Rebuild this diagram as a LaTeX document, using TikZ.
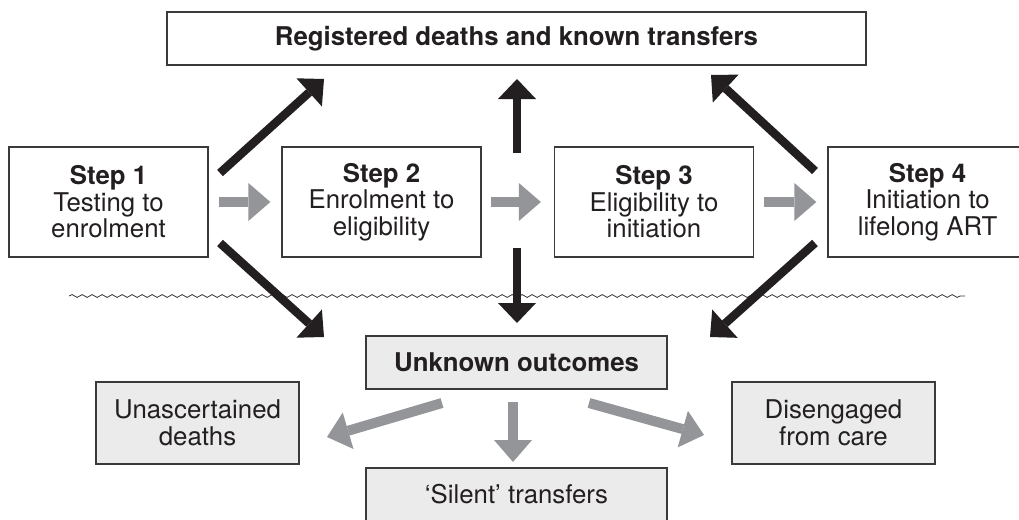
\documentclass[tikz,border=0pt]{standalone}
\usepackage{fontspec}
\setmainfont{TeX Gyre Heros}
\usetikzlibrary{arrows.meta,decorations.pathmorphing}
\definecolor{ink}{HTML}{231F20}
\definecolor{arrgray}{HTML}{939598}
\definecolor{boxfill}{HTML}{EBEBEC}
\definecolor{edge}{HTML}{3A3A3A}
\begin{document}
\begin{tikzpicture}[x=1pt,y=-1pt,
  txt/.style={font=\fontsize{25.8}{26.5}\selectfont, text=ink, align=center},
  plainbox/.style={txt, draw=edge, line width=1.3pt, fill=white, inner sep=0pt},
  stepbox/.style={plainbox, minimum width=199pt, minimum height=110pt},
  graybox/.style={txt, draw=edge, line width=1.3pt, fill=boxfill, inner sep=0pt},
  blackarrow/.style={draw=ink, line width=8.5pt, -{Triangle[width=38pt,length=20pt,line width=0pt]}},
  grayarrow/.style={draw=arrgray, line width=10pt, -{Triangle[width=38pt,length=22pt,line width=0pt]}},
  wavy/.style={draw=edge, line width=0.8pt, decorate, decoration={snake, segment length=10pt, amplitude=1.4pt}}]
\clip (0,0) rectangle (1019,519);
\fill[white] (0,0) rectangle (1019,519);

% separator
\draw[wavy] (69,296) -- (965,296);

% boxes
\node[plainbox, minimum width=699pt, minimum height=53pt] (top) at (516.5,38.5) {\textbf{Registered deaths and known transfers}};
\node[stepbox] (s1) at (108.5,202) {\textbf{Step 1}\\Testing to\\enrolment};
\node[stepbox] (s2) at (381.5,202) {\textbf{Step 2}\\Enrolment to\\eligibility};
\node[stepbox] (s3) at (654,202) {\textbf{Step 3}\\Eligibility to\\initiation};
\node[stepbox] (s4) at (927.5,202) {\textbf{Step 4}\\Initiation to\\lifelong ART};
\node[graybox, minimum width=301pt, minimum height=53pt] (uo) at (516.5,362.5) {\textbf{Unknown outcomes}};
\node[graybox, minimum width=203pt, minimum height=82pt] (ud) at (197.5,423) {Unascertained\\deaths};
\node[graybox, minimum width=203pt, minimum height=82pt] (dc) at (833.5,423) {Disengaged\\from care};
\node[graybox, minimum width=301pt, minimum height=53pt] (st) at (516.5,494.5) {`Silent' transfers};

% gray step arrows
\draw[grayarrow, shorten <=10pt, shorten >=11pt] (s1) -- (s2);
\draw[grayarrow, shorten <=9pt, shorten >=13pt] (s2) -- (s3);
\draw[grayarrow, shorten <=10pt, shorten >=11pt] (s3) -- (s4);

% black arrows
\coordinate (a1s) at (220,173); \coordinate (a1e) at (324,79);
\coordinate (a2s) at (220,243); \coordinate (a2e) at (324,337);
\coordinate (a3s) at (517,153); \coordinate (a3e) at (517,79);
\coordinate (a4s) at (517,248); \coordinate (a4e) at (517,323);
\coordinate (a5s) at (815,171); \coordinate (a5e) at (711,75);
\coordinate (a6s) at (815,243); \coordinate (a6e) at (710,337);
\draw[blackarrow] (a1s) -- (a1e);
\draw[blackarrow] (a2s) -- (a2e);
\draw[blackarrow] (a3s) -- (a3e);
\draw[blackarrow] (a4s) -- (a4e);
\draw[blackarrow] (a5s) -- (a5e);
\draw[blackarrow] (a6s) -- (a6e);

% gray lower arrows
\coordinate (g1s) at (442,403); \coordinate (g1e) at (327,437);
\coordinate (g2s) at (513,402); \coordinate (g2e) at (513,462);
\coordinate (g3s) at (589,403); \coordinate (g3e) at (704,435);
\draw[grayarrow] (g1s) -- (g1e);
\draw[grayarrow] (g2s) -- (g2e);
\draw[grayarrow] (g3s) -- (g3e);
\end{tikzpicture}
\end{document}
